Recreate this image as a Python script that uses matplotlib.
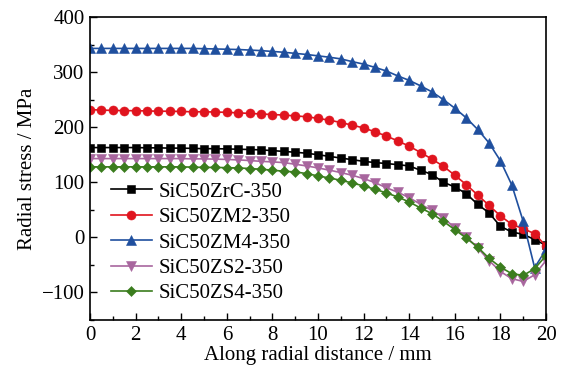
import numpy as np
import matplotlib
matplotlib.use("Agg")
import matplotlib.pyplot as plt
from matplotlib.ticker import MultipleLocator

plt.rcParams['font.family'] = ['Liberation Serif', 'DejaVu Serif']
plt.rcParams['mathtext.fontset'] = 'stix'

distance = np.arange(0, 20.01, 0.5)

zrc = [163, 163, 163, 163, 163, 162.5, 162.5, 162, 162, 161.5,
       161, 161, 160.5, 160, 159.5, 158.8, 157.5, 156, 154.5, 152.7,
       150, 147, 144, 141, 138, 135.8, 134, 132, 129.7, 121.8,
       114, 100, 91.5, 79.4, 60, 44.5, 20, 9.7, 5.5, -4, -14.5]
zm2 = [232, 231, 230.5, 230, 230, 229.5, 229, 229, 228.5, 228,
       228, 227.5, 227, 226, 225, 224, 223, 222, 220.5, 219,
       216, 212.7, 208.5, 203.6, 198.7, 191.5, 184, 175, 165.5, 154,
       142, 129, 112.7, 95.8, 77, 58, 39, 23.6, 15.7, 6.7, -16]
zm4 = [343, 343, 343, 343, 343, 343, 343, 343, 343, 343,
       342.5, 342, 341.5, 341, 340, 339, 337.5, 336, 334, 332,
       329.5, 327, 324, 319, 314.5, 308.5, 302, 293, 285, 275,
       264, 250, 234.5, 217, 196, 171.5, 139, 95, 29, -55, -22]
zs2 = [143, 143, 143, 143, 143, 143, 143, 143, 143, 142.5,
       142.5, 142, 141.5, 140.6, 139.5, 138, 137, 135.7, 132.7, 129.7,
       126, 122, 117.6, 112.7, 106.7, 99.4, 90, 82, 72, 60,
       49, 35.8, 17, 1, -19, -42, -62, -75, -80, -68, -42]
zs4 = [128, 128, 128, 128, 128, 128, 128, 128, 128, 127.5,
       127, 127, 126.5, 126, 125, 123.6, 122, 120, 118.8, 115.8,
       111.5, 107.8, 103.6, 98.8, 93.3, 87.3, 80.6, 73.3, 64.2, 53.3,
       43, 29, 14, -1.2, -17.6, -38, -54, -66, -69, -57, -33]

labels = ['SiC50ZrC-350', 'SiC50ZM2-350', 'SiC50ZM4-350', 'SiC50ZS2-350', 'SiC50ZS4-350']
series = [zrc, zm2, zm4, zs2, zs4]
colors = ['#000000', '#e0141e', '#1f4f9e', '#a8669e', '#3b7d1e']
markers = ['s', 'o', '^', 'v', 'D']
msizes = [5.8, 6.5, 6.8, 6.8, 5.5]

fig = plt.figure(figsize=(5.68, 3.74), dpi=100)
ax = fig.add_axes([0.1585, 0.1444, 0.8028, 0.8101])

for y, lab, c, m, ms in zip(series, labels, colors, markers, msizes):
    ax.plot(distance, y, color=c, marker=m, markersize=ms, linewidth=1.2,
            label=lab, markeredgewidth=0.4)

ax.set_xlim(0, 20)
ax.set_ylim(-150, 400)
ax.xaxis.set_major_locator(MultipleLocator(2))
ax.xaxis.set_minor_locator(MultipleLocator(1))
ax.yaxis.set_major_locator(MultipleLocator(100))
ax.yaxis.set_minor_locator(MultipleLocator(50))
ax.tick_params(which='both', direction='in', labelsize=15, top=False, right=False)
ax.tick_params(which='major', length=5, width=1, pad=4)
ax.tick_params(which='minor', length=3, width=1)
for s in ax.spines.values():
    s.set_linewidth(1.2)

ax.set_xlabel('Along radial distance / mm', fontsize=15, labelpad=1)
ax.set_ylabel('Radial stress / MPa', fontsize=15, labelpad=3)

ax.legend(loc='upper left', bbox_to_anchor=(0.045, 0.455), frameon=False,
          fontsize=15, borderpad=0, borderaxespad=0, handlelength=2.0,
          handletextpad=0.3, labelspacing=0.28)

fig.savefig('out.png', dpi=100)
